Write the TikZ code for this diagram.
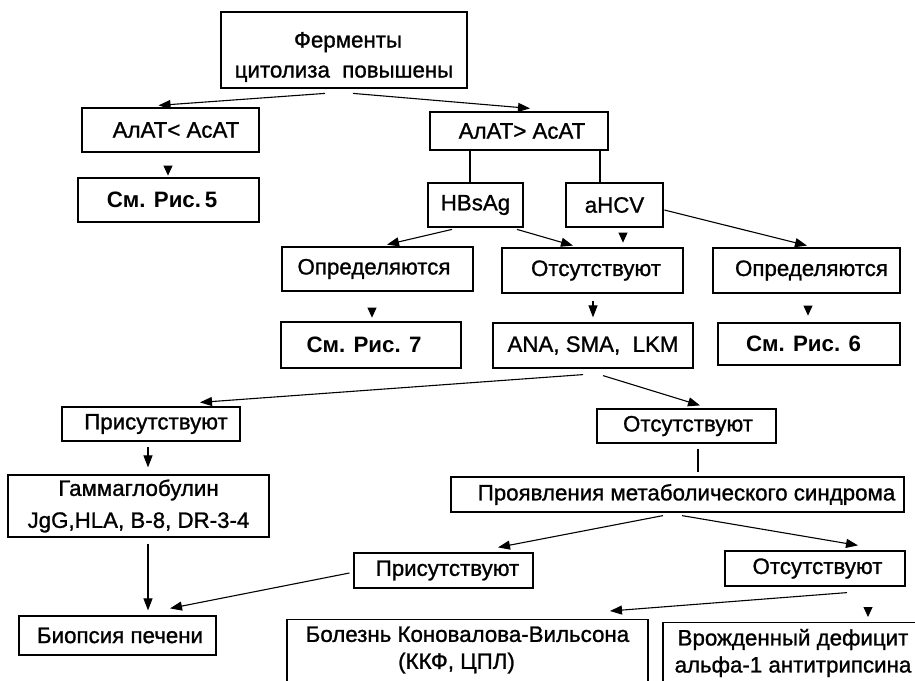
\documentclass[tikz,border=0pt]{standalone}
\usepackage{fontspec}
\setmainfont{Liberation Sans}[UprightFeatures={FakeBold=1.1}]
\usetikzlibrary{arrows.meta,calc}
\begin{document}
\begin{tikzpicture}[x=1pt,y=-1pt,
  every node/.style={font=\fontsize{22.3}{30}\selectfont, inner sep=0pt, align=center},
  thickbox/.style={draw, line width=2.8pt, rectangle},
  thinbox/.style={draw, line width=1.2pt, rectangle},
  boldtxt/.style={font=\fontsize{22.3}{30}\selectfont\bfseries},
  arr/.style={line width=1.1pt, -{Triangle[length=12pt,width=9pt]}},
  tri/.style={line width=0.8pt, -{Triangle[length=10pt,width=9pt]}},
  ln/.style={line width=1.1pt},
]
\useasboundingbox (0,0) rectangle (915,680);

% boxes
\node[thickbox, minimum width=246, minimum height=76] (top) at (344,50) {};
\node (toptext) at ([yshift=-7pt]top.center) {\hspace*{8pt}Ферменты\\цитолиза\ \ повышены};
\node[thinbox, minimum width=177, minimum height=44] (lt) at (170.5,130) {\hspace*{11pt}АлАТ< АсАТ};
\node[thickbox, minimum width=181, minimum height=44, boldtxt] (r5) at (168.5,200) {См. Рис.\,5\hspace*{13pt}};
\node[thinbox, minimum width=178, minimum height=38] (gt) at (519,131) {\hspace*{6pt}АлАТ> АсАТ};
\node[thickbox, minimum width=95, minimum height=44] (hbs) at (475.5,205) {HBsAg};
\node[thickbox, minimum width=97, minimum height=44] (hcv) at (614.5,205) {aHCV};
\node[thickbox, minimum width=191, minimum height=44] (opl) at (377.5,269) {Определяются\hspace*{7pt}};
\node[thickbox, minimum width=181, minimum height=45] (otm) at (592.5,270.5) {\hspace*{7pt}Отсутствуют};
\node[thickbox, minimum width=187, minimum height=45] (opr) at (806.5,270.5) {\hspace*{10pt}Определяются};
\node[thickbox, minimum width=180, minimum height=46, boldtxt] (r7) at (371,345) {См. Рис. 7\hspace*{14pt}};
\node[thinbox, minimum width=200, minimum height=45] (ana) at (593,345.5) {ANA, SMA,\ \ LKM};
\node[thickbox, minimum width=182, minimum height=42, boldtxt] (r6) at (809,344) {См. Рис. 6\hspace*{11pt}};
\node[thinbox, minimum width=178, minimum height=34] (pl) at (151,424) {\hspace*{10pt}Присутствуют};
\node[thinbox, minimum width=179, minimum height=34] (or) at (686.5,426) {\hspace*{3pt}Отсутствуют};
\node[thinbox, minimum width=261, minimum height=62] (gam) at (138.5,506) {Гаммаглобулин\\[2pt]JgG,HLA, B-8, DR-3-4};
\node[thinbox, minimum width=453, minimum height=35] (met) at (677.5,494.5) {\hspace*{18pt}Проявления метаболического синдрома};
\node[thinbox, minimum width=179, minimum height=35] (pl2) at (443.5,570.5) {\hspace*{8pt}Присутствуют};
\node[thinbox, minimum width=180, minimum height=35] (or2) at (815,568.5) {\hspace*{5pt}Отсутствуют};
\node[thinbox, minimum width=197, minimum height=39] (bio) at (117.5,635.5) {\hspace*{5pt}Биопсия печени};
\node[thinbox, minimum width=361, minimum height=80, anchor=north] (bol) at (467.5,619) {};
\node (boltext) at ([yshift=-31pt]bol.north) {Болезнь Коновалова-Вильсона\\[-3pt](ККФ, ЦПЛ)\hspace*{22pt}};
\node[thinbox, minimum width=262, minimum height=80, anchor=north] (vro) at (794,622) {};
\node (vrotext) at ([xshift=-1pt,yshift=-31pt]vro.north) {Врожденный дефицит\\[-3pt]альфа-1 антитрипсина};

% connectors
\draw[arr] ([xshift=-19pt,yshift=-4pt]top.south) -- ([xshift=-12pt,yshift=2pt]lt.north);
\draw[arr] ([xshift=9pt,yshift=-4pt]top.south) -- ([xshift=11pt,yshift=3pt]gt.north);
\draw[tri, shorten <=15pt] ([xshift=-2.5pt]lt.south) -- ([xshift=-0.5pt,yshift=1pt]r5.north);
\draw[ln] ([xshift=-49pt]gt.south) -- ([xshift=-5.5pt]hbs.north);
\draw[ln] ([xshift=81pt]gt.south) -- ([xshift=-14.5pt]hcv.north);
\draw[arr] ([xshift=-23.5pt,yshift=-1pt]hbs.south) -- ([xshift=9.5pt,yshift=1pt]opl.north);
\draw[arr] ([xshift=41.5pt,yshift=-1pt]hbs.south) -- ([xshift=-19.5pt,yshift=1pt]otm.north);
\draw[tri, shorten <=6pt] ([xshift=8.5pt]hcv.south) -- ([xshift=30.5pt,yshift=4pt]otm.north);
\draw[arr] ([yshift=-5pt]hcv.east) -- ([xshift=0.5pt,yshift=1pt]opr.north);
\draw[tri, shorten <=19pt] ([xshift=-5.5pt]opl.south) -- ([xshift=1pt,yshift=3pt]r7.north);
\draw[arr] ([xshift=0.5pt,yshift=-7pt]otm.south) -- ([yshift=5pt]ana.north);
\draw[tri, shorten <=14pt] ([xshift=1.5pt]opr.south) -- ([xshift=-1pt,yshift=6pt]r6.north);
\draw[arr] ([xshift=-10pt,yshift=-6pt]ana.south) -- ([xshift=49pt,yshift=4pt]pl.north);
\draw[arr] ([xshift=10pt,yshift=-7pt]ana.south) -- ([xshift=13.5pt,yshift=3pt]or.north);
\draw[arr] ([xshift=-3pt,yshift=-5pt]pl.south) -- ([xshift=9.5pt,yshift=7pt]gam.north);
\draw[ln] ([xshift=11.5pt,yshift=-5pt]or.south) -- ([xshift=20.5pt,yshift=4pt]met.north);
\draw[arr] ([xshift=-14.5pt,yshift=-3pt]met.south) -- ([xshift=54.5pt,yshift=5pt]pl2.north);
\draw[arr] ([xshift=4.5pt,yshift=-3pt]met.south) -- ([xshift=43pt,yshift=5pt]or2.north);
\draw[arr] ([xshift=9.5pt,yshift=-6pt]gam.south) -- ([xshift=30.5pt,yshift=5pt]bio.north);
\draw[arr] ([xshift=-4pt,yshift=-2.5pt]pl2.west) -- ([xshift=52.5pt,yshift=7pt]bio.north);
\draw[arr] ([xshift=32pt,yshift=-6pt]or2.south) -- ([xshift=142.5pt,yshift=8pt]bol.north);
\draw[tri, shorten <=21pt] ([xshift=53pt]or2.south) -- ([xshift=74pt,yshift=5pt]vro.north);
\end{tikzpicture}
\end{document}
